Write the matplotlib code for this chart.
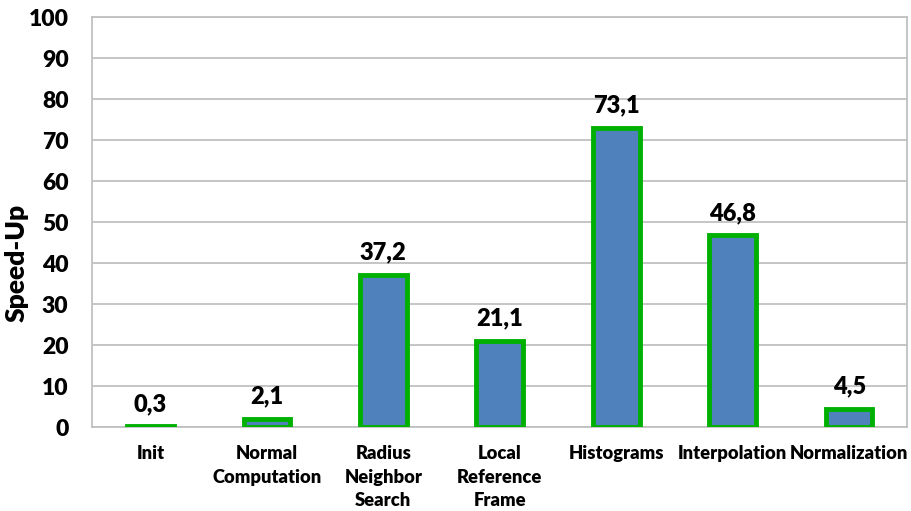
import numpy as np
import matplotlib.pyplot as plt

plt.rcParams['font.family'] = ['Lato', 'DejaVu Sans']
plt.rcParams['font.weight'] = 'bold'

categories = ['Init', 'Normal\nComputation', 'Radius\nNeighbor\nSearch', 'Local\nReference\nFrame',
              'Histograms', 'Interpolation', 'Normalization']
speedup = [0.3, 2.1, 37.2, 21.1, 73.1, 46.8, 4.5]
yticks = [0, 10, 20, 30, 40, 50, 60, 70, 80, 90, 100]

fig = plt.figure(figsize=(9.12, 5.11), dpi=100)
ax = fig.add_axes([0.101, 0.164, 0.894, 0.802])

x = np.arange(len(categories))
bars = ax.bar(x, speedup, width=0.4, color='#4F81BD', edgecolor='#00B000', linewidth=3.5, zorder=3)

for xi, v in zip(x, speedup):
    ax.annotate(('%.1f' % v).replace('.', ','), (xi, v), xytext=(0, 8), textcoords='offset points',
                ha='center', va='bottom', fontsize=17, fontweight='heavy')

ax.set_xlim(-0.5, len(categories) - 0.5)
ax.set_ylim(0, 100)
ax.set_yticks(yticks)
ax.set_xticks(x)
ax.set_xticklabels(categories, fontsize=13.2, fontweight='heavy', linespacing=1.45, va='top')
ax.tick_params(axis='y', length=0, pad=17, labelsize=16.5)
ax.tick_params(axis='x', length=0, pad=13)
for lbl in ax.get_yticklabels():
    lbl.set_fontweight('heavy')
ax.yaxis.grid(True, color='#C0C0C0', linewidth=1.3, zorder=0)
ax.set_axisbelow(True)
for s in ax.spines.values():
    s.set_color('#C0C0C0')
    s.set_linewidth(1.3)

ax.set_ylabel('Speed-Up', fontsize=19, fontweight='heavy')
ax.yaxis.set_label_coords(-0.078, 0.40)

plt.savefig('out.png', dpi=100)
